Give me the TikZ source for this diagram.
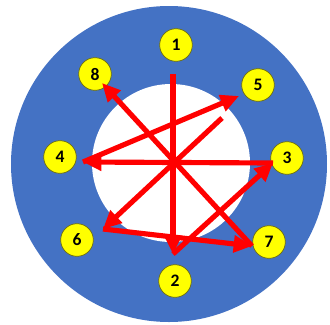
\documentclass[tikz,border=0pt]{standalone}
\usepackage{fontspec}
\setmainfont{Carlito}
\usepackage{tikz}
\usetikzlibrary{
    arrows.meta
}
\definecolor{ringblue}{HTML}{4472C4}
\definecolor{spotyellow}{HTML}{FFFF00}
\definecolor{spotedge}{HTML}{6B6B10}
\definecolor{starred}{HTML}{FF0000}
\tikzset{
    >={Triangle[length=0.55cm, width=0.5cm]},
    spot/.style={
        circle,
        draw=spotedge,
        line width=0.6pt,
        fill=spotyellow,
        minimum size=0.98cm,
        inner sep=0pt,
        font=\bfseries\fontsize{15}{15}\selectfont
    },
    move/.style={
        ->,
        draw=starred,
        line width=4.4pt
    }
}

\begin{document}
\begin{tikzpicture}[
    x=0.03cm,
    y=-0.03cm
]
    \useasboundingbox (0,0) rectangle (330,324);

    % Anillo
    \fill[ringblue] (169,164) circle[radius=158];
    \fill[white]    (171,163) circle[radius=79];

    % Posiciones
    \node[spot] (n1) at (176,45)  {1};
    \node[spot] (n8) at (95,74)   {8};
    \node[spot] (n5) at (258,85)  {5};
    \node[spot] (n4) at (60,157)  {4};
    \node[spot] (n3) at (287,158) {3};
    \node[spot] (n6) at (77,240)  {6};
    \node[spot] (n7) at (269,242) {7};
    \node[spot] (n2) at (175,281) {2};

    % Extremos de las flechas
    \coordinate (s1) at (173,74);
    \coordinate (e2) at (173,254);
    \coordinate (e3) at (273,163);
    \coordinate (e4) at (83,162);
    \coordinate (e5) at (239,96);
    \coordinate (s5) at (222,118);
    \coordinate (e6) at (103,229);
    \coordinate (e7) at (252,246);
    \coordinate (e8) at (102,83);

    % Recorrido
    \draw[move] (s1) -- (e2);
    \draw[move] (e2) -- (e3);
    \draw[move] (e3) -- (e4);
    \draw[move] (e4) -- (e5);
    \draw[move] (s5) -- (e6);
    \draw[move] (e6) -- (e7);
    \draw[move] (e7) -- (e8);

\end{tikzpicture}
\end{document}
